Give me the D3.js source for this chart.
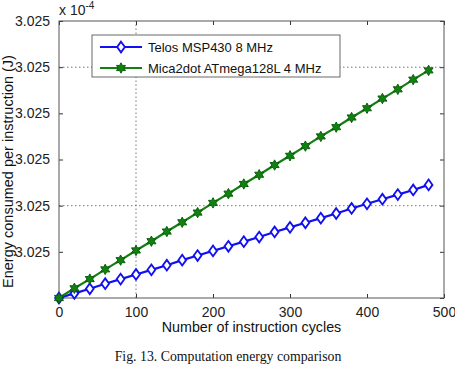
<!DOCTYPE html>
<html>
<head>
<meta charset="utf-8">
<script src="https://cdn.jsdelivr.net/npm/d3@7"></script>
<style>
  body { margin: 0; background: #fff; }
  svg text { font-family: "Liberation Sans", Arial, sans-serif; }
</style>
</head>
<body>
<div id="chart"></div>
<script>
// instruction cycles (x)
const cycles = [0, 20, 40, 60, 80, 100, 120, 140, 160, 180, 200, 220, 240, 260, 280, 300, 320, 340, 360, 380, 400, 420, 440, 460, 480];
// energy offsets above the 3.025e-4 baseline, in tick steps
const telosEnergy = [0, 0.10, 0.20, 0.31, 0.41, 0.51, 0.61, 0.71, 0.82, 0.92, 1.02, 1.12, 1.22, 1.32, 1.43, 1.53, 1.63, 1.73, 1.83, 1.94, 2.04, 2.14, 2.24, 2.34, 2.45];
const micaEnergy = [0, 0.21, 0.41, 0.62, 0.82, 1.03, 1.23, 1.44, 1.64, 1.85, 2.06, 2.26, 2.47, 2.67, 2.88, 3.08, 3.29, 3.50, 3.70, 3.91, 4.11, 4.32, 4.52, 4.73, 4.93];
const seriesNames = ['Telos MSP430 8 MHz', 'Mica2dot ATmega128L 4 MHz'];
const xTicks = [0, 100, 200, 300, 400, 500];
const yTicks = [0, 1, 2, 3, 4, 5, 6];
const yTickLabels = ['', '3.025', '3.025', '3.025', '3.025', '3.025', '3.025'];
const xGrid = [100];
const yGrid = [2, 5];

const width = 455, height = 370;
const margin = {top: 21, right: 11, bottom: 72, left: 59};

const svg = d3.select('#chart')
  .append('svg')
    .attr('width', width)
    .attr('height', height);

const x = d3.scaleLinear().domain([0, 500]).range([margin.left, width - margin.right]);
const y = d3.scaleLinear().domain([0, 6]).range([height - margin.bottom, margin.top]);

// dotted grid
svg.append('g')
  .selectAll('line')
  .data(xGrid)
  .join('line')
    .attr('x1', d => x(d)).attr('x2', d => x(d))
    .attr('y1', y(0)).attr('y2', y(6))
    .attr('stroke', '#555').attr('stroke-width', 0.8).attr('stroke-dasharray', '1.5 2.5');
svg.append('g')
  .selectAll('line')
  .data(yGrid)
  .join('line')
    .attr('x1', x(0)).attr('x2', x(500))
    .attr('y1', d => y(d)).attr('y2', d => y(d))
    .attr('stroke', '#555').attr('stroke-width', 0.8).attr('stroke-dasharray', '1.5 2.5');

// axes with inward ticks
const styleAxis = g => {
  g.select('.domain').remove();
  g.selectAll('.tick line').attr('stroke', '#333');
  g.selectAll('.tick text').attr('fill', '#222').style('font-size', '14px');
};
svg.append('g')
  .attr('transform', `translate(0,${y(0)})`)
  .call(d3.axisBottom(x).tickValues(xTicks).tickSize(-4).tickPadding(9))
  .call(styleAxis);
svg.append('g')
  .attr('transform', `translate(0,${y(6)})`)
  .call(d3.axisTop(x).tickValues(xTicks).tickSize(-4).tickFormat(''))
  .call(styleAxis);
svg.append('g')
  .attr('transform', `translate(${x(0)},0)`)
  .call(d3.axisLeft(y).tickValues(yTicks).tickSize(-4).tickPadding(9).tickFormat((d, i) => yTickLabels[i]))
  .call(styleAxis);
svg.append('g')
  .attr('transform', `translate(${x(500)},0)`)
  .call(d3.axisRight(y).tickValues(yTicks).tickSize(-4).tickFormat(''))
  .call(styleAxis);

// box
svg.append('rect')
  .attr('x', x(0)).attr('y', y(6))
  .attr('width', x(500) - x(0)).attr('height', y(0) - y(6))
  .attr('fill', 'none').attr('stroke', '#555').attr('stroke-width', 1);

// exponent
const expo = svg.append('text').attr('x', 59).attr('y', 15).attr('fill', '#222').style('font-size', '14px');
expo.append('tspan').text('x 10');
expo.append('tspan').attr('dy', -6).style('font-size', '10px').text('-4');

// series
const blue = '#1010f0', green = '#108010';
const diamond = d3.symbol().type(d3.symbolDiamond2).size(60);
// six-pointed star like matlab's hexagram
const hexagram = {
  draw(ctx, size) {
    const R = Math.sqrt(size) * 0.62, r = R * 0.55;
    for (let k = 0; k < 12; k++) {
      const a = -Math.PI / 2 + k * Math.PI / 6;
      const rr = k % 2 === 0 ? R : r;
      if (k === 0) ctx.moveTo(rr * Math.cos(a), rr * Math.sin(a));
      else ctx.lineTo(rr * Math.cos(a), rr * Math.sin(a));
    }
    ctx.closePath();
  }
};
const star = d3.symbol().type(hexagram).size(70);

const line = d3.line().x((d, i) => x(cycles[i])).y(d => y(d));

svg.append('path').datum(telosEnergy)
  .attr('d', line).attr('fill', 'none').attr('stroke', blue).attr('stroke-width', 2.2);
svg.append('path').datum(micaEnergy)
  .attr('d', line).attr('fill', 'none').attr('stroke', green).attr('stroke-width', 2.2);

svg.append('g').selectAll('path')
  .data(telosEnergy)
  .join('path')
    .attr('transform', (d, i) => `translate(${x(cycles[i])},${y(d)}) scale(0.8,1.1)`)
    .attr('d', diamond)
    .attr('fill', 'white').attr('stroke', blue).attr('stroke-width', 2);
svg.append('g').selectAll('path')
  .data(micaEnergy)
  .join('path')
    .attr('transform', (d, i) => `translate(${x(cycles[i])},${y(d)})`)
    .attr('d', star)
    .attr('fill', green).attr('stroke', '#0a600a').attr('stroke-width', 1);

// legend
const legend = svg.append('g');
legend.append('rect')
  .attr('x', 92).attr('y', 35).attr('width', 248).attr('height', 42)
  .attr('fill', 'white').attr('stroke', '#444').attr('stroke-width', 0.8);
const legendColors = [blue, green];
seriesNames.forEach((name, i) => {
  const ly = 47 + i * 21;
  legend.append('line')
    .attr('x1', 100).attr('x2', 142).attr('y1', ly).attr('y2', ly)
    .attr('stroke', legendColors[i]).attr('stroke-width', 2.2);
  if (i === 0) {
    legend.append('path').attr('transform', `translate(121,${ly}) scale(0.8,1.1)`).attr('d', diamond)
      .attr('fill', 'white').attr('stroke', blue).attr('stroke-width', 2);
  } else {
    legend.append('path').attr('transform', `translate(121,${ly})`).attr('d', star)
      .attr('fill', green).attr('stroke', '#0a600a').attr('stroke-width', 1);
  }
  legend.append('text')
    .attr('x', 148).attr('y', ly + 5)
    .attr('fill', '#111').style('font-size', '13px')
    .text(name);
});

// axis labels
svg.append('text')
  .attr('x', (x(0) + x(500)) / 2).attr('y', 332)
  .attr('text-anchor', 'middle').attr('fill', '#111').style('font-size', '14.3px')
  .text('Number of instruction cycles');
svg.append('text')
  .attr('transform', `translate(13,${(y(0) + y(6)) / 2 + 12}) rotate(-90)`)
  .attr('text-anchor', 'middle').attr('fill', '#111').style('font-size', '14.5px')
  .text('Energy consumed per instruction (J)');

// caption
svg.append('text')
  .attr('x', 228).attr('y', 361)
  .attr('text-anchor', 'middle').attr('fill', '#111')
  .style('font-family', '"Liberation Serif", "Times New Roman", serif').style('font-size', '13.8px')
  .text('Fig. 13. Computation energy comparison');
</script>
</body>
</html>
